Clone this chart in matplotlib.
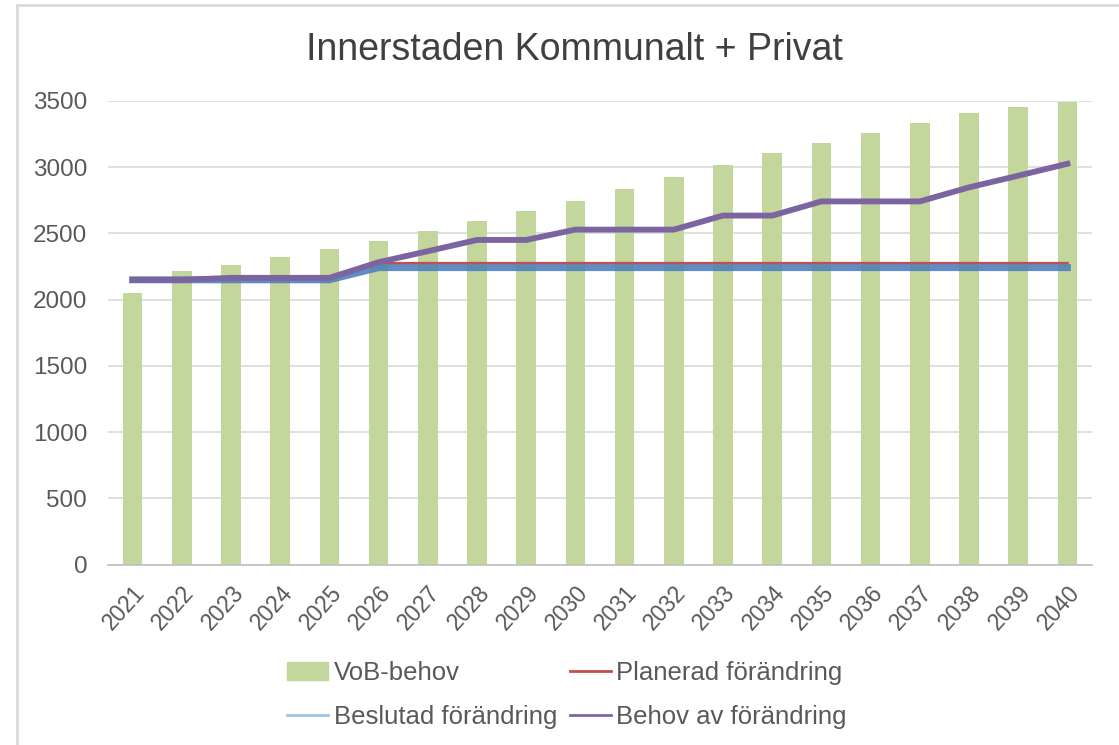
import matplotlib
matplotlib.use('Agg')
import matplotlib.pyplot as plt
from matplotlib.patches import Rectangle, Patch
from matplotlib.lines import Line2D

years = [str(y) for y in range(2021, 2041)]
vob_behov = [2052, 2218, 2263, 2323, 2381, 2444, 2519, 2595, 2670, 2745,
             2836, 2926, 3019, 3107, 3182, 3258, 3333, 3408, 3454, 3495]
planerad = [2150, 2150, 2165, 2165, 2165, 2275, 2275, 2275, 2275, 2275,
            2275, 2275, 2275, 2275, 2275, 2275, 2275, 2275, 2275, 2275]
beslutad = [2150, 2150, 2150, 2150, 2150, 2242, 2242, 2242, 2242, 2242,
            2242, 2242, 2242, 2242, 2242, 2242, 2242, 2242, 2242, 2242]
behov = [2150, 2150, 2165, 2165, 2165, 2283, 2366, 2451, 2451, 2529,
         2529, 2529, 2635, 2635, 2742, 2742, 2742, 2848, 2936, 3026]

plt.rcParams['font.family'] = ['Liberation Sans', 'DejaVu Sans']
txt = '#595959'

fig = plt.figure(figsize=(11.19, 7.45), dpi=100)
ax = fig.add_axes([108/1119, 1-564.6/745, 984/1119, 463.6/745])

x = list(range(len(years)))
ax.bar(x, vob_behov, width=0.4, color='#C3D69B', zorder=2)
ax.plot(x, planerad, color='#C0504D', lw=2, zorder=3)
ax.plot(x, beslutad, color='#4F81BD', lw=5, zorder=3, alpha=0.9)
ax.plot(x, behov, color='#7B64A0', lw=4.2, zorder=4)

ax.set_xlim(-0.5, len(years)-0.5)
ax.set_ylim(0, 3500)
ax.set_yticks(range(0, 3501, 500))
ax.yaxis.grid(True, color='#D9D9D9', lw=1.2, zorder=0)
ax.set_axisbelow(True)
for s in ['top', 'right', 'left']:
    ax.spines[s].set_visible(False)
ax.spines['bottom'].set_color('#BFBFBF')
ax.spines['bottom'].set_linewidth(1.2)
ax.tick_params(length=0, colors=txt, labelsize=17.5)
ax.tick_params(axis='y', pad=15)
ax.set_xticks(x)
ax.set_xticklabels(years, rotation=48, ha='right', rotation_mode='anchor', fontsize=16.5)
ax.tick_params(axis='x', pad=12)

fig.text(574/1119, 1-50/745, 'Innerstaden Kommunalt + Privat', fontsize=27,
         color='#404040', ha='center', va='center')

handles = [Patch(color='#C3D69B'),
           Line2D([], [], color='#9DC3E6', lw=2),
           Line2D([], [], color='#C0504D', lw=2),
           Line2D([], [], color='#8064A2', lw=2)]
labels = ['VoB-behov', 'Beslutad förändring', 'Planerad förändring', 'Behov av förändring']
fig.legend(handles, labels, ncol=2, loc='center', bbox_to_anchor=(567/1119, 1-695/745),
           frameon=False, fontsize=18.5, labelcolor=txt, handlelength=1.6,
           handletextpad=0.2, columnspacing=0.5, labelspacing=0.75)

# ram runt diagramytan
fig.patches.append(Rectangle((17/1119, -0.05), 1.2, 1-5/745+0.05, transform=fig.transFigure,
                             fill=False, ec='#D9D9D9', lw=2))

plt.savefig('out.png', dpi=100)
